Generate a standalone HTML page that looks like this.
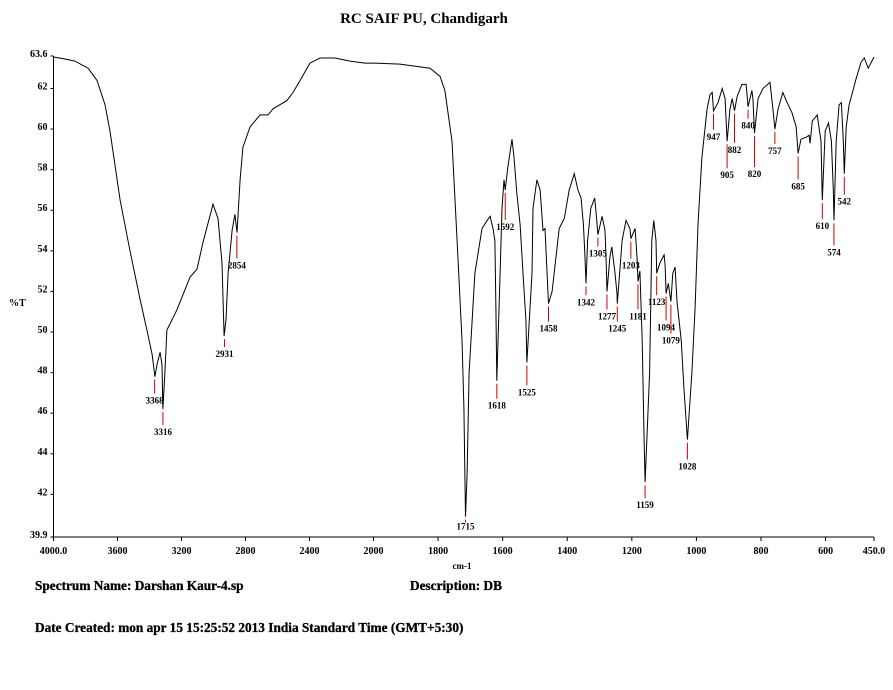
<!DOCTYPE html>
<html><head><meta charset="utf-8">
<style>
html,body{margin:0;padding:0;background:#fff;}
svg{display:block;}
text{font-family:"Liberation Serif",serif;font-weight:bold;fill:#000;}
</style></head>
<body>
<svg id="chart" width="893" height="690" viewBox="0 0 893 690" xmlns="http://www.w3.org/2000/svg">
<text x="424" y="23" font-size="15" text-anchor="middle">RC SAIF PU, Chandigarh</text>
<text x="9" y="306" font-size="10">%T</text>
<text x="462" y="569" font-size="9" text-anchor="middle">cm-1</text>
<text x="35" y="590" font-size="13.3" font-weight="normal" stroke="#000" stroke-width="0.3">Spectrum Name: Darshan Kaur-4.sp</text>
<text x="410" y="590" font-size="13.3" font-weight="normal" stroke="#000" stroke-width="0.3">Description: DB</text>
<text x="35" y="632" font-size="13.3" font-weight="normal" stroke="#000" stroke-width="0.3">Date Created: mon apr 15 15:25:52 2013 India Standard Time (GMT+5:30)</text>
<g id="axes"></g>
<g id="peaks"></g>
<path id="spectrum" fill="none" stroke="#000" stroke-width="1"/>
</svg>
<script>
const wavenumbers=[4000,3928,3866,3784,3728,3678,3647,3584,3522,3459,3416,3384,3366,3353,3334,3322,3316,3303,3291,3272,3228,3147,3103,3066,3003,2972,2947,2934,2922,2909,2884,2866,2853,2834,2816,2772,2709,2659,2628,2541,2503,2459,2397,2334,2241,2147,2053,2000,1918,1825,1794,1779,1757,1741,1726,1720,1715,1710,1704,1686,1664,1648,1639,1630,1624,1621,1618,1608,1602,1596,1592,1584,1571,1565,1556,1546,1537,1528,1525,1509,1506,1494,1484,1475,1469,1460,1458,1447,1425,1409,1394,1378,1367,1357,1350,1346,1342,1337,1327,1315,1309,1305,1292,1283,1280,1277,1268,1262,1252,1246,1245,1230,1218,1206,1203,1190,1184,1181,1175,1168,1162,1159,1145,1138,1132,1125,1123,1113,1100,1097,1094,1087,1079,1073,1066,1060,1047,1038,1028,1014,1004,995,983,967,958,951,947,933,920,911,905,896,889,882,874,859,846,840,828,825,820,809,794,772,763,757,747,732,722,704,691,685,676,660,651,648,641,626,614,610,601,591,582,576,574,567,558,551,545,542,536,527,515,505,490,480,468,450];
const transmittance=[63.55,63.45,63.35,63.0,62.4,61.2,59.9,56.5,54.0,51.6,50.1,48.9,47.8,48.4,49.0,48.4,46.2,48.1,50.1,50.4,51.1,52.7,53.1,54.4,56.3,55.6,53.4,49.8,50.6,52.9,55.0,55.8,54.9,57.5,59.1,60.1,60.7,60.7,61.0,61.4,61.8,62.4,63.25,63.5,63.5,63.35,63.25,63.25,63.2,63.0,62.6,61.9,59.4,54.5,49.6,46.3,40.9,43.0,48.0,52.9,55.1,55.5,55.7,55.1,54.5,51.2,47.6,52.9,56.1,57.5,57.0,58.1,59.5,58.6,56.8,55.3,52.9,50.6,48.5,52.9,56.1,57.5,57.0,55.0,55.1,52.0,51.4,52.0,55.1,55.6,57.0,57.8,57.0,56.6,55.3,54.0,52.4,54.5,56.1,56.6,55.6,54.8,55.7,55.0,53.7,52.0,53.7,54.2,52.9,51.9,51.4,54.5,55.5,55.1,54.6,55.1,53.7,52.5,53.0,49.6,44.7,42.6,48.0,54.5,55.5,54.5,52.9,53.4,53.8,53.3,51.9,52.4,51.5,52.9,53.2,51.5,49.6,47.1,44.7,48.0,51.2,55.3,58.6,61.0,61.7,61.8,60.9,61.3,62.0,61.5,59.4,61.0,61.5,60.9,61.6,62.2,62.2,61.1,61.9,61.5,59.8,61.5,62.0,62.3,61.0,60.0,61.0,61.8,61.4,60.8,60.1,58.8,59.5,59.6,59.7,59.3,60.4,60.7,59.4,56.5,59.9,60.3,59.4,57.0,55.5,59.4,61.2,61.3,59.4,57.8,60.1,61.2,61.9,62.5,63.3,63.5,63.0,63.55];
const peakLabels=[3368,3316,2931,2854,1715,1618,1592,1525,1458,1342,1305,1277,1245,1203,1181,1159,1123,1094,1079,1028,947,905,882,840,820,757,685,610,574,542];
const peakValues=[47.8,46.2,49.8,54.9,40.9,47.6,57.0,48.5,51.4,52.4,54.8,52.0,51.4,54.6,52.5,42.6,52.9,51.9,51.5,44.7,60.9,59.4,60.9,61.1,59.8,60.0,58.8,56.5,55.5,57.8];
const labelDrops=[27,26,21,36,13,28,40,33,28,22,22,28,28,30,38,26,32,37,42,30,29,37,42,22,44,25,36,29,35,31];
const yTicks=[63.6,62,60,58,56,54,52,50,48,46,44,42,39.9];
const yTickLabels=["63.6","62","60","58","56","54","52","50","48","46","44","42","39.9"];
const xTicks=[4000,3600,3200,2800,2400,2000,1800,1600,1400,1200,1000,800,600,450];
const xTickLabels=["4000.0","3600","3200","2800","2400","2000","1800","1600","1400","1200","1000","800","600","450.0"];

const X0=53.5,X1=874,Y0=537,Y1=56,TMIN=39.9,TMAX=63.6;
function xScale(w){
  const lowPx=0.16; const xb=X0+2000*lowPx;
  if(w>=2000) return X0+(4000-w)*lowPx;
  return xb+(2000-w)*(X1-xb)/1550;
}
function yScale(t){return Y0-(t-TMIN)*(Y0-Y1)/(TMAX-TMIN);}
const NS="http://www.w3.org/2000/svg";
const axes=document.getElementById('axes');
function mk(tag,attrs,parent){const e=document.createElementNS(NS,tag);for(const k in attrs)e.setAttribute(k,attrs[k]);parent.appendChild(e);return e;}
const yAxis=mk('line',{x1:X0,y1:Y1,x2:X0,y2:Y0,stroke:'#000','stroke-width':1},axes);


const xAxis=mk('line',{x1:X0,y1:Y0,x2:X1,y2:Y0,stroke:'#000','stroke-width':1},axes);


yTicks.forEach((v,i)=>{
  const y=yScale(v);
  const t=mk('line',{x1:X0-3,y1:y,x2:X0,y2:y,stroke:'#000'},axes);
  
  
  const l=mk('text',{x:X0-6,y:y+1,'font-size':10,'text-anchor':'end'},axes);
  l.textContent=yTickLabels[i];
  
  
});
xTicks.forEach((v,i)=>{
  const x=xScale(v);
  const t=mk('line',{x1:x,y1:Y0,x2:x,y2:Y0+4,stroke:'#000'},axes);
  
  
  const l=mk('text',{x:x,y:Y0+17,'font-size':10,'text-anchor':'middle'},axes);
  l.textContent=xTickLabels[i];
  
  
});
let d='';
wavenumbers.forEach((w,i)=>{d+=(i?'L':'M')+xScale(w).toFixed(1)+' '+yScale(transmittance[i]).toFixed(1);});
document.getElementById('spectrum').setAttribute('d',d);
const peaks=document.getElementById('peaks');
peakLabels.forEach((w,i)=>{
  const x=xScale(w),y=yScale(peakValues[i]),ty=y+labelDrops[i];
  const ln=mk('line',{x1:x,y1:y+3,x2:x,y2:Math.max(y+6,ty-10),stroke:'#cc0000','stroke-width':1},peaks);
  
  
  const tx=mk('text',{x:x,y:ty,'font-size':9,'text-anchor':'middle'},peaks);
  tx.textContent=String(w);
  
  
});
</script>
</body></html>
